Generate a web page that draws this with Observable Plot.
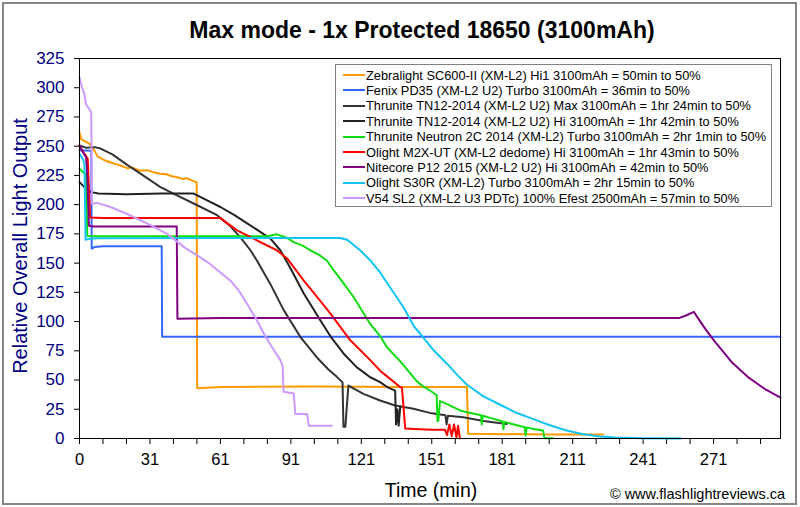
<!DOCTYPE html>
<html><head><meta charset="utf-8">
<script src="https://cdn.jsdelivr.net/npm/d3@7"></script>
<script src="https://cdn.jsdelivr.net/npm/@observablehq/plot@0.6"></script>
<style>
html,body{margin:0;padding:0;background:#fff;}
#wrap{position:relative;width:800px;height:507px;overflow:hidden;font-family:"Liberation Sans",Arial,sans-serif;background:#fff;}
#chart{position:absolute;left:0;top:0;}
#frame{position:absolute;left:2px;top:2px;width:791px;height:499px;border:2px solid #858585;}
.abs{position:absolute;white-space:nowrap;line-height:1.15;}
#title{left:422px;top:30px;transform:translate(-50%,-50%);font-size:23px;font-weight:bold;color:#000;}
#ylab{left:20px;top:246px;transform:translate(-50%,-50%) rotate(-90deg);font-size:20px;color:#000080;}
#xlab{left:431px;top:490px;transform:translate(-50%,-50%);font-size:19.5px;color:#000;}
#copy{right:15px;top:494px;transform:translateY(-50%);font-size:14.5px;color:#000;}
#legend{position:absolute;left:335px;top:64px;width:435px;height:141px;border:1px solid #808080;background:#fff;}
.lrow{position:absolute;left:0;height:15px;width:100%;}
.lsw{position:absolute;left:7px;top:6.5px;width:22px;height:2px;}
.ltx{position:absolute;left:30px;top:0;font-size:12.8px;line-height:15px;color:#000;white-space:nowrap;}
</style></head>
<body>
<div id="wrap">
  <div id="chart"></div>
  <div id="frame"></div>
  <div id="title" class="abs">Max mode - 1x Protected 18650 (3100mAh)</div>
  <div id="ylab" class="abs">Relative Overall Light Output</div>
  <div id="xlab" class="abs">Time (min)</div>
  <div id="copy" class="abs">© www.flashlightreviews.ca</div>
  <div id="legend"></div>
</div>
<script>
const seriesNames = [
  "Zebralight SC600-II (XM-L2) Hi1 3100mAh = 50min to 50%",
  "Fenix PD35 (XM-L2 U2) Turbo 3100mAh = 36min to 50%",
  "Thrunite TN12-2014 (XM-L2 U2) Max 3100mAh = 1hr 24min to 50%",
  "Thrunite TN12-2014 (XM-L2 U2) Hi 3100mAh = 1hr 42min to 50%",
  "Thrunite Neutron 2C 2014 (XM-L2) Turbo 3100mAh = 2hr 1min to 50%",
  "Olight M2X-UT (XM-L2 dedome) Hi 3100mAh = 1hr 43min to 50%",
  "Nitecore P12 2015 (XM-L2 U2) Hi 3100mAh = 42min to 50%",
  "Olight S30R (XM-L2) Turbo 3100mAh = 2hr 15min to 50%",
  "V54 SL2 (XM-L2 U3 PDTc) 100% Efest 2500mAh = 57min to 50%"
];
const seriesColors = ["#ff9900","#3366ff","#333333","#222222","#11dd11","#ff0000","#800080","#11c4f4","#cc99ff"];

// [time (min), relative output]
const zebralight = [[0,262],[0.7,256],[4.3,252],[6.4,246],[7.8,241],[10.6,238],[14.9,235],[17.4,233.5],[20.6,231],[22,232],[23.8,230.5],[26,229],[28.8,229.5],[31,228],[34.5,226.5],[37,226],[39,224.5],[41.6,223.5],[44,222],[45.8,222.5],[49.4,219.5],[49.9,219],[50.1,43],[60,44],[100,44.5],[140,44],[165,44],[165.5,4],[200,3.5],[223,3.5]];
const fenix = [[0,246.5],[5,246],[5.2,162.5],[6.4,163.7],[10,164.5],[35,164.5],[35.2,87],[298.5,87]];
const thruniteMax = [[0,250.6],[3,248.6],[6.4,249.2],[9,248],[14,243],[20.3,234],[23.4,230],[34.5,215],[40,209.5],[48.6,201],[58.6,191],[64,182],[68.5,172],[72.8,161],[75.6,152],[81.3,132],[86.9,110],[94,87],[101,69.5],[106,59],[109.7,52.5],[112,48],[112.4,10],[113.2,10],[114.5,45.3],[120.9,38.2],[128,32.5],[134.4,28.2],[142.2,25.4],[150,21.5],[155.8,19.8],[156.3,12],[156.9,19.5],[163.4,18.2],[172,15],[181.9,12.5]];
const thruniteHi = [[0,219.3],[2.1,215],[5,210.7],[8,209.5],[20,209],[35,209.5],[48.6,209.5],[55,203],[60,198],[66,191],[71.4,184],[76,178],[81.3,171],[85.5,161],[90,145],[95.5,124],[102.6,101],[107,87],[112.5,72.5],[118,61],[123.8,52.4],[128,48.2],[131,44],[134.4,41],[134.8,12],[135.4,25],[135.9,11],[136.6,27.5]];
const neutron = [[0,230.7],[1.4,227.8],[2.8,226],[3.3,173.5],[5,173],[40,173],[79.9,173],[84,174.6],[88,172],[91.2,168],[95,165],[98.3,161],[102,157],[105.4,152],[108.2,144],[112,134],[116.7,121],[123.8,98],[128,87.6],[130.9,78],[136.6,66],[143.6,49],[146,45],[150,40],[152.1,37],[152.4,15],[152.8,15],[153.5,32],[157,29],[162,24],[165,22.5],[171,19.8],[171.3,12],[171.7,19.5],[176,17],[180.2,14.5],[180.5,8],[180.9,14.2],[185,12],[189.6,9.7],[190,2.6],[190.4,9.5],[194,8],[197.4,6.8],[198,0.3],[201.7,0.3]];
const m2x = [[0,250],[2.1,243.5],[3.5,239.3],[4,215],[4.5,189],[10,188.5],[60,188.5],[63,184],[67.1,178],[72,173],[77,168],[84,161],[88.4,154],[95.5,135],[100,124],[106.8,107],[115.3,84],[123.8,67],[128,58],[132.3,51],[136.5,44],[137.3,43.5],[138.7,8.5],[145,8],[150,7.5],[155.6,7.5],[156.5,3],[157.5,12],[158.5,2],[159.5,12],[160.5,1],[161.2,11],[162,0]];
const p12 = [[0,250.6],[1.4,245],[2.8,240.6],[3.3,225],[4,182],[6,181.3],[41.4,181.3],[41.7,102.5],[60,103],[120,103],[200,103],[255.2,103],[258,105],[261.6,108.3],[264,101],[266.6,93.3],[270.9,82],[278,64.7],[285.1,51.8],[292.3,41.7],[298.5,35]];
const s30r = [[0,243.5],[1.4,239],[2.1,235],[2.6,170],[4.3,170.8],[8,171.3],[60,171.5],[111,171.5],[114,170],[117,165],[119.6,160.8],[124,152],[128,142],[133,127],[138,112],[142.4,96],[146.5,86],[151,75],[156.5,64],[161,54],[165,46],[172,36],[180,28],[186,22],[193,16.8],[200,11.5],[207,7],[214,3.8],[221.5,1.8],[228,0.8],[240,0.3],[256.3,0]];
const v54 = [[0,309],[1.1,300],[2,295],[2.8,286],[5,279],[5.3,201],[7.5,201.5],[13.2,198],[20.3,192],[28.8,184],[37.3,175],[45,163],[52.9,153],[55.7,149],[60,142],[64.3,135],[68,126],[71.4,115],[75,103],[78.4,90],[82,78],[85.5,67],[86.5,62],[86.9,40],[91.2,38.5],[91.9,21],[96.9,21],[97.6,11],[107.5,11]];

const seriesData = [zebralight, fenix, thruniteMax, thruniteHi, neutron, m2x, p12, s30r, v54];

const yTicks = [0,25,50,75,100,125,150,175,200,225,250,275,300,325];
const xTicks = [0,10,20,30,40,50,60,70,80,90,100,110,120,130,140,150,160,170,180,190,200,210,220,230,240,250,260,270,280,290];
const xLabelPositions = [0,30,60,90,120,150,180,210,240,270];
const xTickLabels = ["0","31","61","91","121","151","181","211","241","271"];

const rows = seriesData.flatMap((pts, i) => pts.map(([t, v]) => ({series: seriesNames[i], t, v})));

const chart = Plot.plot({
  width: 800, height: 507,
  marginLeft: 79, marginRight: 20, marginTop: 58, marginBottom: 69,
  style: {fontFamily: "'Liberation Sans', Arial, sans-serif", background: "transparent", overflow: "visible"},
  x: {domain: [0, 298.5]},
  y: {domain: [0, 325]},
  color: {domain: seriesNames, range: seriesColors},
  marks: [
    Plot.axisX({ticks: xTicks, tickSize: 6, tickPadding: 9, fontSize: 16.5, label: null, color: "black",
      tickFormat: d => { const i = xLabelPositions.indexOf(d); return i >= 0 ? xTickLabels[i] : ""; }}),
    Plot.axisY({ticks: yTicks, tickSize: 5, tickPadding: 10, fontSize: 17, label: null, color: "#000080"}),
    Plot.line(rows, {x: "t", y: "v", z: "series", stroke: "series", strokeWidth: 2, curve: "linear"}),
    Plot.frame({stroke: "black", strokeWidth: 1})
  ]
});
document.getElementById("chart").appendChild(chart);
chart.querySelectorAll('[aria-label="y-axis tick"]').forEach(g => g.setAttribute("stroke", "black"));

const legend = document.getElementById("legend");
seriesNames.forEach((name, i) => {
  const row = document.createElement("div");
  row.className = "lrow";
  row.style.top = (2.5 + i * 15.4) + "px";
  const sw = document.createElement("div");
  sw.className = "lsw";
  sw.style.background = seriesColors[i];
  const tx = document.createElement("div");
  tx.className = "ltx";
  tx.textContent = name;
  row.appendChild(sw); row.appendChild(tx);
  legend.appendChild(row);
});
</script>
</body></html>
